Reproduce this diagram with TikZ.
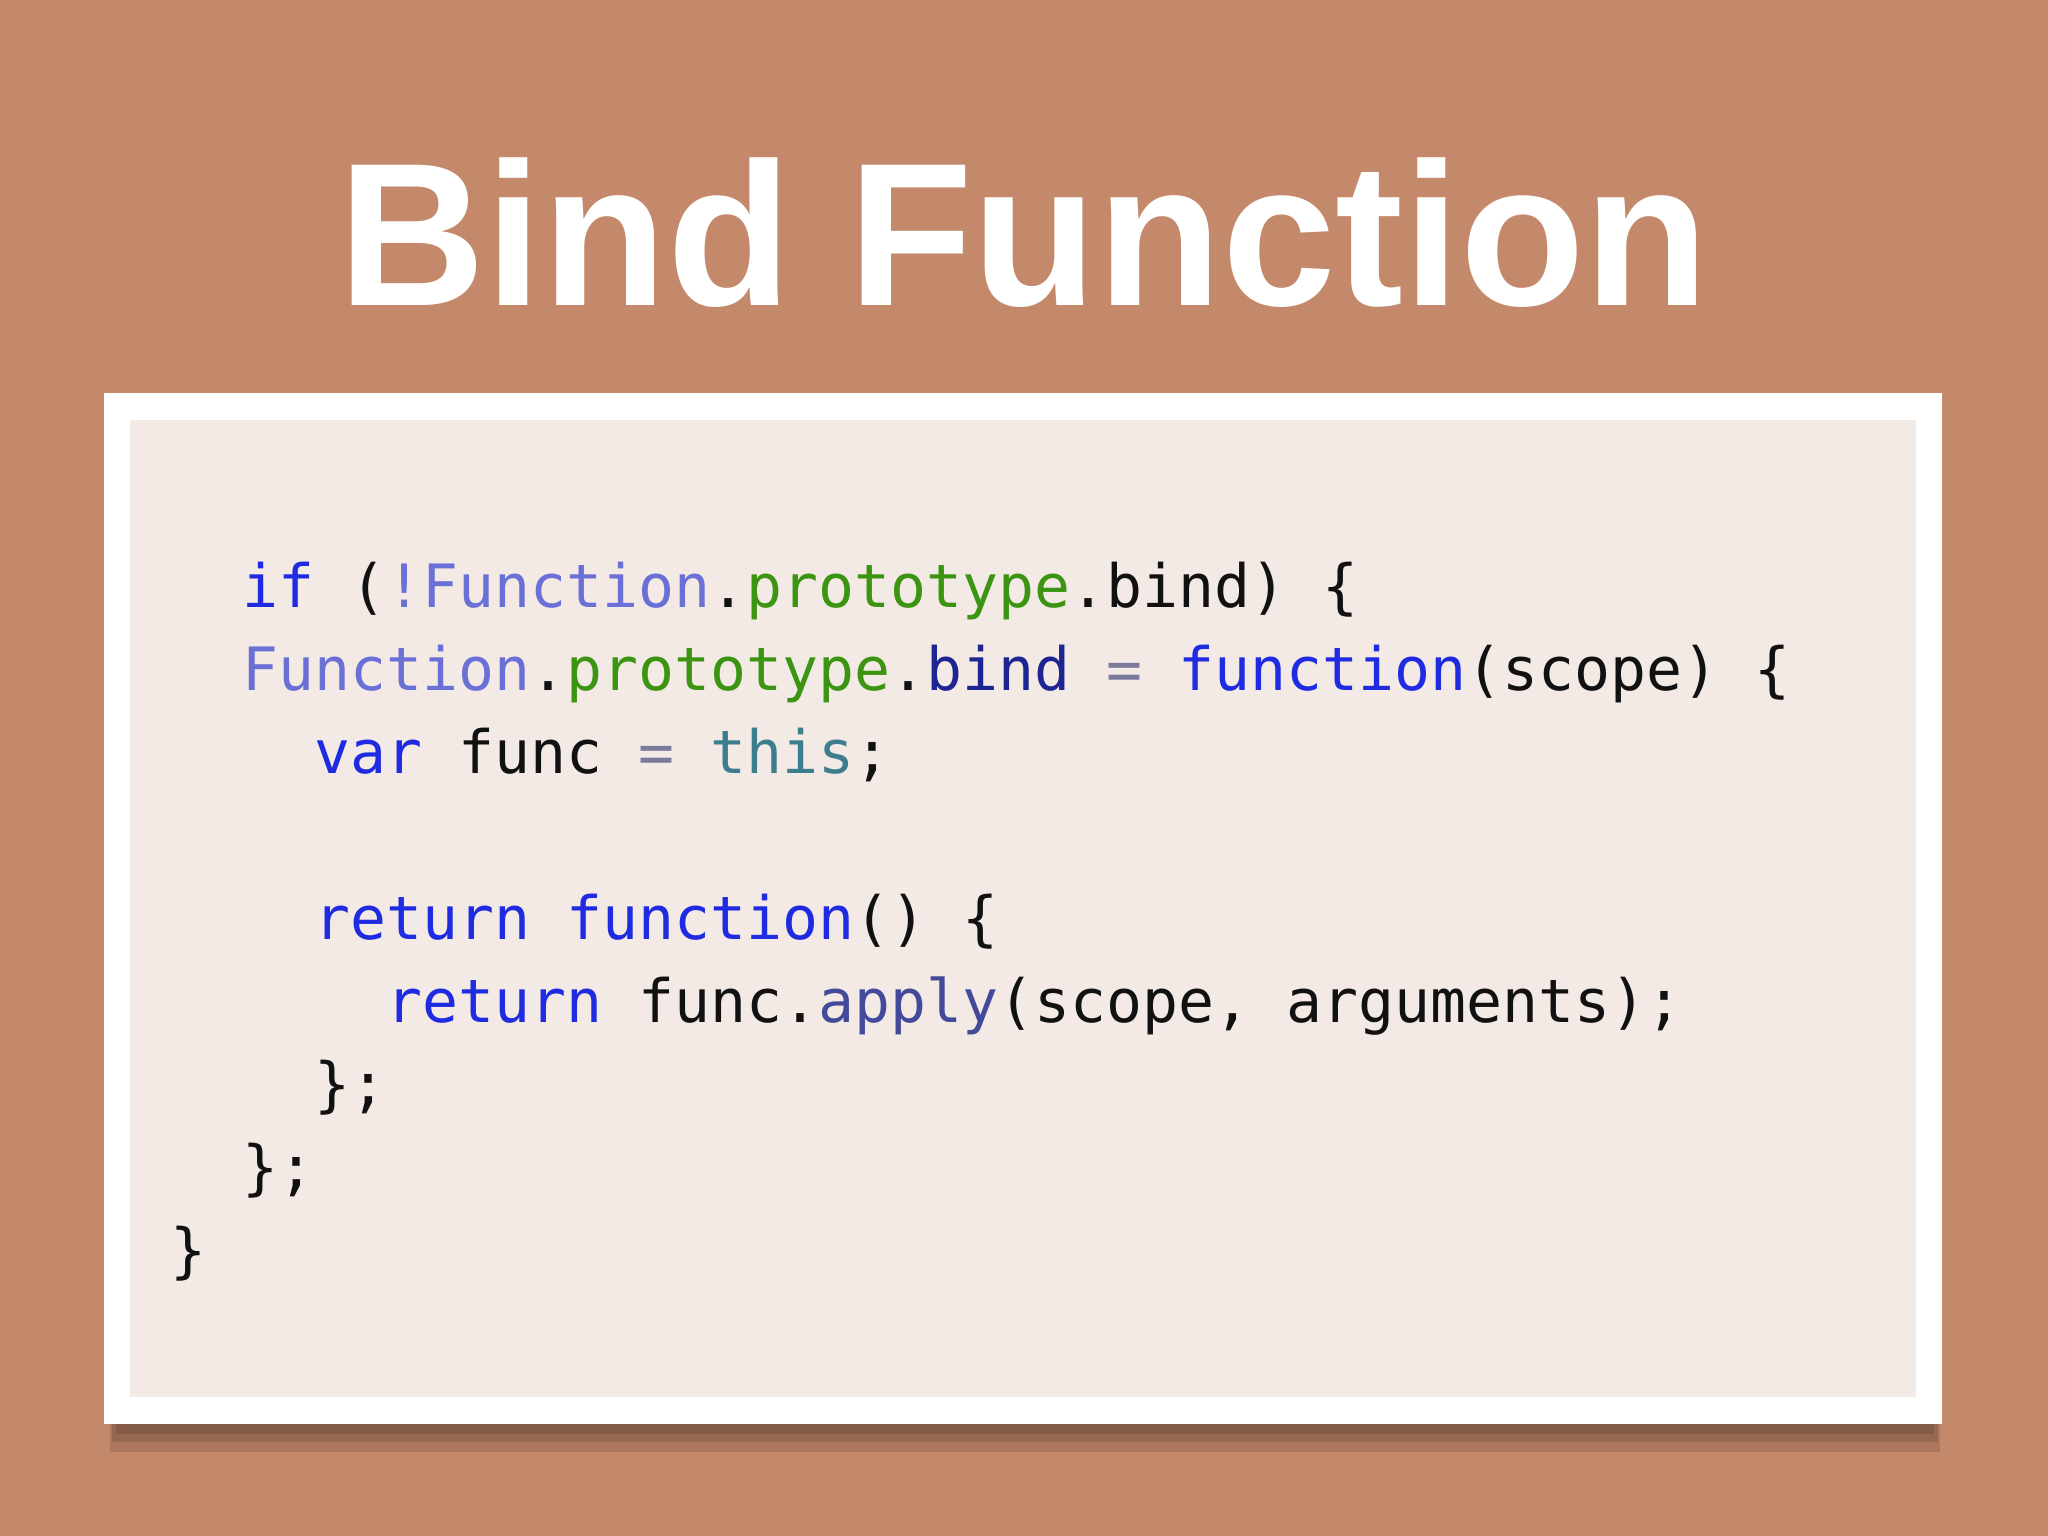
\documentclass[tikz,border=0pt]{standalone}
\usepackage{fontspec}
\setmainfont{Liberation Sans}
\newfontfamily\codefont{DejaVu Sans Mono}
\definecolor{bgc}{HTML}{C4886A}
\definecolor{panel}{HTML}{F4EAE5}
\definecolor{kw}{HTML}{1F2BE0}
\definecolor{cls}{HTML}{6B70D6}
\definecolor{prop}{HTML}{3B9512}
\definecolor{nav}{HTML}{1C2590}
\definecolor{opc}{HTML}{7A7A9A}
\definecolor{thisc}{HTML}{3C7E8E}
\definecolor{apc}{HTML}{444A9A}
\definecolor{txt}{HTML}{111111}
\tikzset{codeline/.style={anchor=base west,inner sep=0pt,font=\codefont\fontsize{17}{20}\selectfont,text=txt}}
\begin{document}
\begin{tikzpicture}[x=0.01cm,y=-0.01cm]
\useasboundingbox (0,0) rectangle (2048,1536);
\fill[bgc] (0,0) rectangle (2048,1536);
\node[font=\bfseries\fontsize{58}{60}\selectfont,text=white,anchor=base] (title) at (1024,305) {Bind Function};
\fill[black,opacity=0.12] (110,1400) rectangle (1940,1452);
\fill[black,opacity=0.12] (112,1400) rectangle (1938,1442);
\fill[black,opacity=0.12] (116,1400) rectangle (1934,1434);
\fill[white] (104,393) rectangle (1942,1424);
\fill[panel!70!white!98!black] (130,420) rectangle (1916,1397);
\fill[panel] (133,423) rectangle (1913,1394);
\node[codeline] (l1) at (170,607) {\phantom{xx}\textcolor{kw}{if} (\textcolor{cls}{!Function}.\textcolor{prop}{prototype}.bind) \{};
\node[codeline] (l2) at (170,690) {\phantom{xx}\textcolor{cls}{Function}.\textcolor{prop}{prototype}.\textcolor{nav}{bind} \textcolor{opc}{=} \textcolor{kw}{function}(scope) \{};
\node[codeline] (l3) at (170,773) {\phantom{xxxx}\textcolor{kw}{var} func \textcolor{opc}{=} \textcolor{thisc}{this};};
\node[codeline] (l5) at (170,939) {\phantom{xxxx}\textcolor{kw}{return} \textcolor{kw}{function}() \{};
\node[codeline] (l6) at (170,1022) {\phantom{xxxxxx}\textcolor{kw}{return} func.\textcolor{apc}{apply}(scope, arguments);};
\node[codeline] (l7) at (170,1105) {\phantom{xxxx}\};};
\node[codeline] (l8) at (170,1188) {\phantom{xx}\};};
\node[codeline] (l9) at (170,1271) {\}};
\end{tikzpicture}
\end{document}
